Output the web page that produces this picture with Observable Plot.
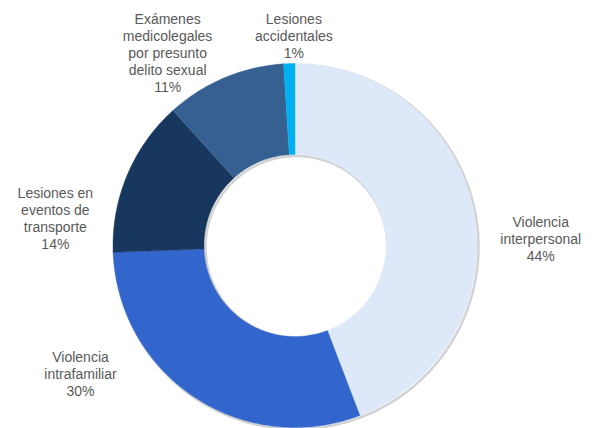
<!DOCTYPE html>
<html><head><meta charset="utf-8">
<script src="https://cdn.jsdelivr.net/npm/d3@7"></script>
<script src="https://cdn.jsdelivr.net/npm/@observablehq/plot@0.6"></script>
<style>
body{margin:0;background:#fff;}
#chart{width:599px;height:428px;}
</style>
</head><body><div id="chart"></div>
<script>
// ---- data ----
const categories = [
  "Violencia interpersonal",
  "Violencia intrafamiliar",
  "Lesiones en eventos de transporte",
  "Exámenes medicolegales por presunto delito sexual",
  "Lesiones accidentales"
];
const labelLines = [
  ["Violencia", "interpersonal"],
  ["Violencia", "intrafamiliar"],
  ["Lesiones en", "eventos de", "transporte"],
  ["Exámenes", "medicolegales", "por presunto", "delito sexual"],
  ["Lesiones", "accidentales"]
];
const shares = [44.2, 30.2, 13.9, 10.7, 1.0];
const colors = ["#dde8f8", "#3366cc", "#17375e", "#376092", "#00b0f0"];

// ---- layout ----
const W = 599, H = 428;
const CX = 294.5, CY = 245, R = 182;   // pixel centre and outer radius
const INNER = 0.5;                      // inner radius as fraction of outer
const LABEL_R = 1.25;
const labelNudge = [[22, 34], [-89, -62], [-30, 61], [-39, 17], [6, 17]]; // px

const rows = categories.map((name, i) => ({name, value: shares[i], i}));
const arcs = d3.pie().sort(null).value(d => d.value)(rows);

const pts = [];
for (const a of arcs) {
  const n = Math.max(3, Math.ceil((a.endAngle - a.startAngle) / (2 * Math.PI) * 400));
  const ring = [];
  for (let k = 0; k <= n; k++) {
    const t = a.startAngle + (a.endAngle - a.startAngle) * k / n;
    ring.push({name: a.data.name, x: Math.sin(t), y: Math.cos(t)});
  }
  for (let k = n; k >= 0; k--) {
    const t = a.startAngle + (a.endAngle - a.startAngle) * k / n;
    ring.push({name: a.data.name, x: INNER * Math.sin(t), y: INNER * Math.cos(t)});
  }
  ring.push({...ring[0]});
  pts.push(...ring);
}

const circle = (r, tag) => d3.range(0, 361, 2).map(d => ({tag, x: r * Math.sin(d * Math.PI / 180), y: r * Math.cos(d * Math.PI / 180)}));
const shadow = [...circle(1, "o"), ...circle(INNER, "i")];

const labels = arcs.map((a, i) => {
  const m = (a.startAngle + a.endAngle) / 2;
  return {
    x: LABEL_R * Math.sin(m) + labelNudge[i][0] / R,
    y: LABEL_R * Math.cos(m) - labelNudge[i][1] / R,
    text: [...labelLines[i], Math.round(a.data.value) + "%"].join("\n")
  };
});

const chart = Plot.plot({
  width: W, height: H,
  margin: 0,
  x: {domain: [-CX / R, (W - CX) / R], range: [0, W], axis: null},
  y: {domain: [-(H - CY) / R, CY / R], range: [H, 0], axis: null},
  color: {domain: categories, range: colors},
  style: {fontFamily: "Arial, 'Liberation Sans', sans-serif", background: "#fff"},
  marks: [
    Plot.line(shadow, {x: "x", y: "y", z: "tag", stroke: "#7f7f7f", strokeOpacity: 0.35, strokeWidth: 2.5, dx: 1.5, dy: 1.5}),
    Plot.line(pts, {x: "x", y: "y", z: "name", fill: "name", stroke: "name", strokeWidth: 0.4}),
    Plot.text(labels, {x: "x", y: "y", text: "text", textAnchor: "middle", lineAnchor: "middle",
      lineHeight: 17 / 14, fontSize: 14, fill: "#595959"})
  ]
});
document.getElementById("chart").append(chart);
</script>
</body></html>
